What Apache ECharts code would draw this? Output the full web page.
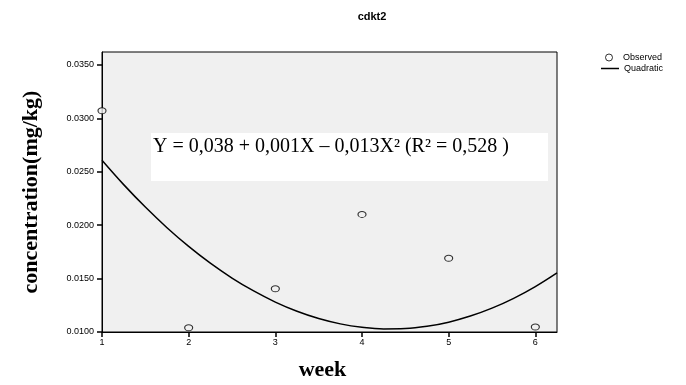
<!DOCTYPE html>
<html>
<head>
<meta charset="utf-8">
<script src="https://cdn.jsdelivr.net/npm/echarts@6/dist/echarts.min.js"></script>
<style>
  html, body { margin: 0; padding: 0; background: #fff; }
  #chart { width: 686px; height: 385px; }
</style>
</head>
<body>
<div id="chart"></div>
<script>
var weeks = [1, 2, 3, 4, 5, 6];
var observed = [0.0307, 0.0104, 0.01405, 0.0210, 0.0169, 0.01047];

// quadratic fit line
var curveX = [1, 1.25, 1.5, 1.75, 2, 2.25, 2.5, 2.75, 3, 3.25, 3.5, 3.75, 4, 4.25, 4.5, 4.75, 5, 5.25, 5.5, 5.75, 6, 6.25];
var curveY = [0.02607, 0.02379, 0.02169, 0.01976, 0.01801, 0.01644, 0.01505, 0.01384, 0.01280, 0.01194, 0.01126, 0.01076,
  0.01044, 0.01029, 0.01032, 0.01053, 0.01092, 0.01149, 0.01223, 0.01315, 0.01425, 0.01553];

var xTicks = [1, 2, 3, 4, 5, 6];
var yTicks = [0.010, 0.015, 0.020, 0.025, 0.030, 0.035];

var equation = 'Y = 0,038 + 0,001X \u2013 0,013X\u00b2 (R\u00b2 = 0,528 )';

var myChart = echarts.init(document.getElementById('chart'));

var legendText = { fontFamily: 'Liberation Sans', fontSize: 9, color: '#000' };

var option = {
  animation: false,
  title: {
    text: 'cdkt2',
    left: 367,
    top: 6,
    textAlign: 'center',
    textStyle: { fontFamily: 'Liberation Sans', fontSize: 11, fontWeight: 'bold', color: '#000' }
  },
  legend: [
    {
      orient: 'vertical',
      left: 600,
      top: 48,
      itemWidth: 18,
      itemHeight: 7,
      itemGap: 2,
      textStyle: legendText,
      data: [{ name: 'Observed', icon: 'circle', itemStyle: { color: '#fff', borderColor: '#000', borderWidth: 1 } }]
    },
    {
      orient: 'vertical',
      left: 596,
      top: 59,
      itemWidth: 18,
      itemHeight: 1.5,
      textStyle: legendText,
      data: [{ name: 'Quadratic', icon: 'rect', itemStyle: { color: '#000' } }]
    }
  ],
  grid: {
    left: 102,
    right: 129,
    top: 52,
    bottom: 53,
    show: true,
    backgroundColor: '#f0f0f0',
    borderColor: '#000',
    borderWidth: 1,
    outerBoundsMode: 'none'
  },
  xAxis: {
    type: 'value',
    min: 1,
    max: 6.25,
    name: 'week',
    nameLocation: 'middle',
    nameGap: 27,
    nameTextStyle: { fontFamily: 'Liberation Serif', fontSize: 22, fontWeight: 'bold', color: '#000', padding: [0, 14, 0, 0] },
    axisLine: { show: true, lineStyle: { color: '#000', width: 1 } },
    axisTick: { show: true, length: 5, customValues: xTicks, lineStyle: { color: '#000', width: 1.5 } },
    axisLabel: { customValues: xTicks, margin: 6, fontFamily: 'Liberation Sans', fontSize: 9, color: '#000' },
    splitLine: { show: false }
  },
  yAxis: {
    type: 'value',
    min: 0.01,
    max: 0.0362,
    name: 'concentration(mg/kg)',
    nameLocation: 'middle',
    nameGap: 60,
    nameTextStyle: { fontFamily: 'Liberation Serif', fontSize: 22, fontWeight: 'bold', color: '#000' },
    axisLine: { show: true, lineStyle: { color: '#000', width: 1 } },
    axisTick: { show: true, length: 5, customValues: yTicks, lineStyle: { color: '#000', width: 1.5 } },
    axisLabel: {
      customValues: yTicks,
      margin: 8,
      fontFamily: 'Liberation Sans',
      fontSize: 9,
      color: '#000',
      formatter: function (v) { return v.toFixed(4); }
    },
    splitLine: { show: false }
  },
  graphic: [
    {
      type: 'rect',
      shape: { x: 151, y: 133, width: 397, height: 48 },
      style: { fill: '#fff' },
      z: 5
    },
    {
      type: 'text',
      x: 153,
      y: 137,
      style: { text: equation, fontFamily: 'Liberation Serif', fontSize: 20, fill: '#000' },
      z: 6
    }
  ],
  series: [
    {
      name: 'Quadratic',
      type: 'line',
      smooth: 0.4,
      symbol: 'none',
      lineStyle: { color: '#000', width: 1.5 },
      itemStyle: { color: '#000' },
      data: curveX.map(function (x, i) { return [x, curveY[i]]; }),
      z: 3
    },
    {
      name: 'Observed',
      type: 'scatter',
      symbol: 'circle',
      symbolSize: [8, 6],
      clip: false,
      itemStyle: { color: '#f0f0f0', borderColor: '#000', borderWidth: 1 },
      data: weeks.map(function (x, i) { return [x, observed[i]]; }),
      z: 4
    }
  ]
};

myChart.setOption(option);
</script>
</body>
</html>
